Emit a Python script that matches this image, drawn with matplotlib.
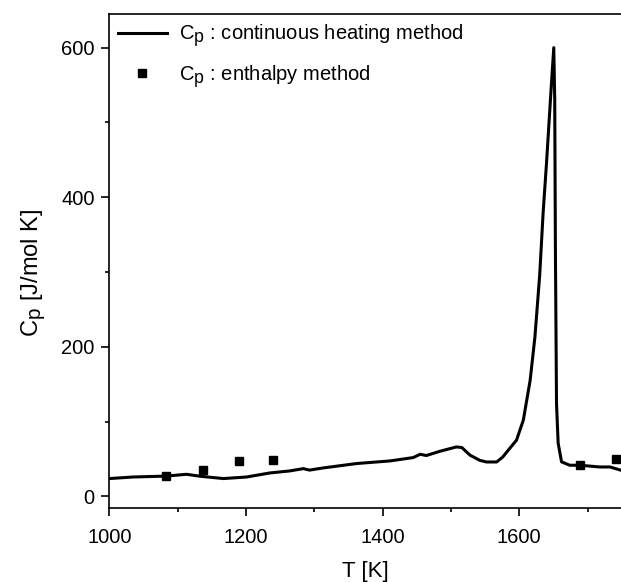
import matplotlib
matplotlib.use("Agg")
import matplotlib.pyplot as plt
from matplotlib.ticker import MultipleLocator

try:
    import matplotlib._mathtext as _mt
    _mt.SHRINK_FACTOR = 0.88
except Exception:
    pass

plt.rcParams['font.family'] = ['Liberation Sans', 'DejaVu Sans']
plt.rcParams['mathtext.fontset'] = 'custom'
plt.rcParams['mathtext.rm'] = 'Liberation Sans'
plt.rcParams['mathtext.it'] = 'Liberation Sans'

# Continuous heating method curve
T_curve = [1000, 1035, 1083, 1113, 1133, 1167, 1201, 1235, 1264, 1284, 1293, 1313,
           1362, 1411, 1445, 1455, 1464, 1484, 1508, 1516, 1528, 1542, 1552, 1567,
           1576, 1586, 1596, 1606, 1616, 1623, 1630, 1635, 1640, 1646, 1650.6,
           1652, 1653, 1654.6, 1657, 1662, 1674, 1689, 1718, 1733, 1749]
Cp_curve = [23.7, 25.8, 27.0, 29.4, 26.8, 23.7, 25.8, 31.2, 33.9, 37.0, 35.0, 37.9,
            43.8, 47.3, 51.8, 56.2, 54.5, 60.2, 66.0, 65.2, 55.0, 48.2, 45.9, 45.9,
            52.6, 63.9, 75.0, 101.7, 155.0, 213.0, 296.0, 379.0, 446.0, 534.5, 600.0,
            530.0, 329.0, 124.5, 71.0, 46.0, 41.5, 41.5, 39.2, 39.2, 34.8]

# Enthalpy method points
T_pts = [1083, 1137.5, 1190, 1239, 1688.6, 1741]
Cp_pts = [27.2, 35.7, 47.3, 49.0, 41.5, 50.5]

label_line = r'$\mathregular{C_p}$ : continuous heating method'
label_pts = r'$\mathregular{C_p}$ : enthalpy method'

fig = plt.figure(figsize=(6.21, 5.82), dpi=100)
ax = fig.add_axes([0.176, 0.128, 0.824, 0.848])

ax.plot(T_curve, Cp_curve, color='black', lw=2.2, label=label_line)
ax.plot(T_pts, Cp_pts, 's', color='black', ms=6, label=label_pts, clip_on=False)

ax.set_xlim(1000, 1749)
ax.set_ylim(-15, 645)
ax.xaxis.set_major_locator(MultipleLocator(200))
ax.xaxis.set_minor_locator(MultipleLocator(100))
ax.yaxis.set_major_locator(MultipleLocator(200))
ax.yaxis.set_minor_locator(MultipleLocator(100))
ax.tick_params(which='both', direction='out', top=False, right=False, width=1.2,
               labelsize=14.5)
ax.tick_params(which='major', length=5.5)
ax.tick_params(which='minor', length=3)
ax.tick_params(axis='x', which='major', pad=9)
ax.tick_params(axis='y', which='major', pad=5)
for s in ['left', 'bottom', 'top']:
    ax.spines[s].set_linewidth(1.2)
ax.spines['right'].set_visible(False)

ax.set_xlabel('T [K]', fontsize=16, labelpad=10)
ax.set_ylabel(r'$\mathregular{C_p}$ [J/mol K]', fontsize=17)
ax.yaxis.set_label_coords(-0.12, 0.475)

ax.legend(loc='upper left', frameon=False, fontsize=14.5, handlelength=2.4,
          borderaxespad=0.3, handletextpad=0.6, labelspacing=0.7,
          bbox_to_anchor=(-0.01, 1.012))

fig.savefig('out.png', dpi=100)
